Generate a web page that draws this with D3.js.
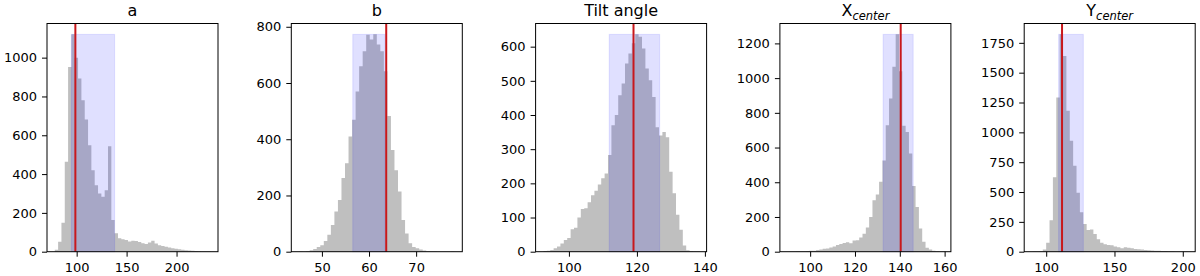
<!DOCTYPE html>
<html>
<head>
    <title></title>
    <script src="https://d3js.org/d3.v7.min.js"></script>
    <style>
        body { margin: 0; background: #fff; }
        text { font-family: "DejaVu Sans", sans-serif; fill: #000; }
    </style>
</head>
<body>
    <script>

    // panel titles (X/Y get an italic subscript)
    var titles    = ["a", "b", "Tilt angle", "X", "Y"];
    var subscript = [null, null, null, "center", "center"];

    // histogram bins: first edge + bin width, then the counts
    var binStarts = [78.1, 45.15, 92.5, 90.8, 90.1];
    var binWidths = [3.33, 0.75, 1.0, 1.48, 2.47];

    var countsA = [10, 51, 149, 463, 952, 1120, 1000, 892, 780, 681, 549, 420, 343, 300, 283,
                   317, 544, 163, 95, 69, 64, 60, 52, 57, 55, 50, 44, 40, 47, 56, 42, 33, 30,
                   25, 22, 18, 15, 12, 10, 8, 6, 5, 3, 2, 1, 1, 1];
    var countsB = [1, 0, 2, 5, 10, 17, 23, 38, 60, 95, 143, 184, 262, 315, 410, 469, 570, 660,
                   713, 772, 755, 773, 737, 713, 642, 483, 362, 290, 214, 113, 65, 30, 17, 12,
                   8, 4, 2, 1, 1, 0, 0, 0, 0, 1];
    var countsTilt = [2, 3, 5, 10, 15, 24, 34, 40, 66, 70, 100, 125, 127, 145, 165, 178, 197,
                      215, 229, 283, 370, 400, 458, 492, 551, 580, 610, 636, 629, 595, 536, 502,
                      453, 364, 340, 350, 335, 234, 171, 108, 64, 18, 4, 2, 1, 1];
    var countsX = [1, 1, 2, 3, 2, 4, 5, 6, 10, 12, 17, 18, 24, 30, 38, 44, 50, 54, 48, 65, 66,
                   82, 104, 140, 200, 296, 330, 403, 525, 729, 883, 1065, 1252, 1040, 725, 690,
                   565, 378, 258, 133, 58, 23, 12, 5, 2, 1, 1];
    var countsY = [1, 1, 3, 18, 74, 264, 623, 1293, 1821, 1640, 1180, 930, 720, 494, 330, 232,
                   182, 187, 148, 105, 76, 62, 57, 54, 43, 37, 29, 37, 34, 29, 23, 20, 18, 15,
                   13, 11, 9, 8, 6, 5, 4, 3, 2, 2, 1, 1];
    var counts = [countsA, countsB, countsTilt, countsX, countsY];

    // best value (red line) and interval (blue band)
    var bestValue  = [98.7, 63.65, 119.0, 140.4, 111.6];
    var intervalLo = [94.75, 56.55, 111.85, 132.55, 109.1];
    var intervalHi = [138.0, 63.4, 126.7, 145.97, 127.2];

    // axis limits and ticks
    var xLimits = [[70.3, 241.5], [43.5, 79.8], [90.2, 140.5], [86.5, 162.8], [83.9, 209.1]];
    var xTicks  = [[100, 150, 200], [50, 60, 70], [100, 120, 140], [100, 120, 140, 160], [100, 150, 200]];
    var yTicks  = [[0, 200, 400, 600, 800, 1000], [0, 200, 400, 600, 800],
                   [0, 100, 200, 300, 400, 500, 600], [0, 200, 400, 600, 800, 1000, 1200],
                   [0, 250, 500, 750, 1000, 1250, 1500, 1750]];

    var svg = d3.select("body").append("svg").attr("width", 1200).attr("height", 276);

    var plotTop = 23.5, plotBottom = 251.7, pw = 171;

    titles.forEach(function(t, p) {
        var left = 47 + p * 244.3;
        var cs = counts[p];
        var x = d3.scaleLinear().domain(xLimits[p]).range([left, left + pw]);
        var y = d3.scaleLinear().domain([0, d3.max(cs) * 1.05]).range([plotBottom, plotTop]);
        var g = svg.append("g");

        // histogram as one stepped area
        var pts = cs.map((c, i) => [binStarts[p] + i * binWidths[p], c]);
        pts.push([binStarts[p] + cs.length * binWidths[p], cs[cs.length - 1]]);
        var area = d3.area().curve(d3.curveStepAfter)
            .x(d => x(d[0])).y0(y(0)).y1(d => y(d[1]));
        g.append("path").attr("d", area(pts)).attr("fill", "#bfbfbf");

        // interval band
        g.append("rect")
            .attr("x", x(intervalLo[p])).attr("width", x(intervalHi[p]) - x(intervalLo[p]))
            .attr("y", y(d3.max(cs))).attr("height", y(0) - y(d3.max(cs)))
            .attr("fill", "rgba(0,0,255,0.12)").attr("stroke", "rgba(0,0,255,0.1)");

        // best value
        g.append("line")
            .attr("x1", x(bestValue[p])).attr("x2", x(bestValue[p]))
            .attr("y1", plotTop).attr("y2", plotBottom)
            .attr("stroke", "#c8181c").attr("stroke-width", 2);

        // axes
        var ax = g.append("g").attr("transform", "translate(0," + plotBottom + ")")
            .call(d3.axisBottom(x).tickValues(xTicks[p]).tickSize(5).tickPadding(6.5));
        var ay = g.append("g").attr("transform", "translate(" + left + ",0)")
            .call(d3.axisLeft(y).tickValues(yTicks[p]).tickFormat(d3.format("d"))
                .tickSize(5).tickPadding(5));
        [ax, ay].forEach(function(a) {
            a.select(".domain").remove();
            a.selectAll("text").attr("font-size", 13).attr("font-family", "DejaVu Sans").attr("fill", "#000");
            a.selectAll("line").attr("stroke", "#000");
        });

        // frame
        g.append("rect").attr("x", left).attr("y", plotTop).attr("width", pw)
            .attr("height", plotBottom - plotTop)
            .attr("fill", "none").attr("stroke", "#000").attr("stroke-width", 1);

        // title
        var tt = g.append("text").attr("x", left + pw / 2).attr("y", 16)
            .attr("text-anchor", "middle").attr("font-size", 16).text(t);
        if (subscript[p]) {
            tt.append("tspan").attr("font-size", 11.5).attr("font-style", "italic")
                .attr("dy", 4).text(subscript[p]);
        }
    });
    </script>
</body>
</html>
